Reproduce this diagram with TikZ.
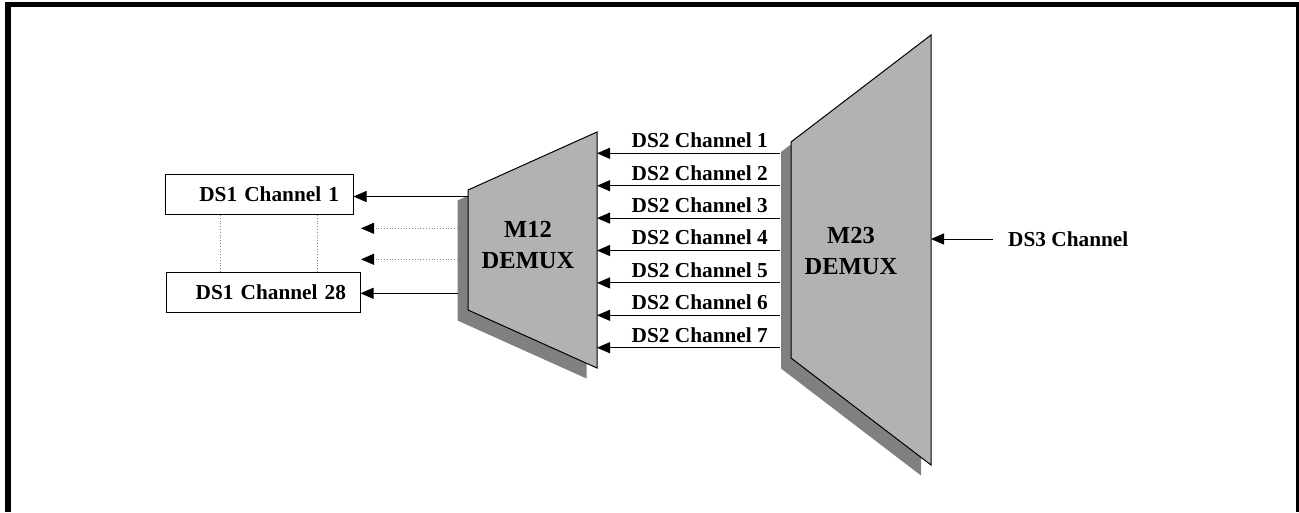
\documentclass[tikz,border=0pt]{standalone}
\usepackage{fontspec}
\setmainfont{Liberation Serif}
\usepackage{tikz}
\usetikzlibrary{positioning, arrows.meta, calc}
\definecolor{cMuxFace} {HTML}{B2B2B2}
\definecolor{cMuxShade}{HTML}{808080}
\definecolor{cDotted}  {HTML}{8A8A8A}

\begin{document}
\begin{tikzpicture}[x=1pt, y=-1pt,
    lbl/.style={font=\fontsize{21.3}{24}\selectfont\bfseries, inner sep=0pt},
    muxlbl/.style={font=\fontsize{24.5}{31}\selectfont\bfseries, align=center, inner sep=0pt},
    chanbox/.style={draw, line width=1pt, minimum height=40pt, inner xsep=14pt, inner ysep=0pt,
                    align=right, font=\fontsize{21.3}{24}\selectfont\bfseries},
    arr/.style={-{Triangle[length=13pt, width=11pt]}, line width=1pt},
    dotarr/.style={draw=cDotted, dotted, line width=0.8pt,
                   -{Triangle[length=13pt, width=11pt, color=black]}},
    dotline/.style={draw=cDotted, dotted, line width=0.8pt},
  ]
  \useasboundingbox (0,0) rectangle (1299,512);
  % frame, open at the bottom
  \fill (5,2) rectangle (11,512);
  \fill (5,2) rectangle (1299,7);
  \fill (1296,2) rectangle (1299,512);

  % muxes: shadow first, then face
  \fill[cMuxShade] (457.5,200.5) -- (586.5,142.5) -- (586.5,378.5) -- (457.5,320.5) -- cycle;
  \filldraw[fill=cMuxFace, line width=1pt] (468,190) -- (597,132) -- (597,368) -- (468,310) -- cycle;
  \fill[cMuxShade] (781,152) -- (921,45) -- (921,475.5) -- (781,368.5) -- cycle;
  \filldraw[fill=cMuxFace, line width=1pt] (791,142) -- (931,35) -- (931,465) -- (791,358) -- cycle;
  \node[muxlbl] (m12) at (528,245) {M12\\DEMUX};
  \node[muxlbl] (m23) at (851,251) {M23\\DEMUX};

  % DS1 side
  \node[chanbox, text width=160pt] (ds1a) at (259,194.5) {DS1 Channel 1};
  \node[chanbox, text width=166pt] (ds1b) at (263,292) {DS1 Channel 28};
  \coordinate (d1) at (220,0);
  \coordinate (d2) at (317,0);
  \draw[dotline] (d1 |- ds1a.south) -- (d1 |- ds1b.north);
  \draw[dotline] (d2 |- ds1a.south) -- (d2 |- ds1b.north);

  \coordinate (m12o1) at (468,196.5);
  \coordinate (m12o28) at (457.5,293.3);
  \draw[arr] (m12o1) -- (m12o1 -| ds1a.east);
  \draw[arr] (m12o28) -- (m12o28 -| ds1b.east);
  \foreach \y in {228.3, 259.3}{
    \coordinate (s) at (457.5,\y);
    \coordinate (t) at (361,\y);
    \draw[dotarr] (s) -- (t);
  }

  % DS2 channels
  \foreach \i in {1,...,7}{
    \pgfmathsetmacro{\yy}{153.3+(\i-1)*32.4}
    \coordinate (m23o\i) at (780,\yy);
    \coordinate (m12i\i) at (597,\yy);
    \draw[arr] (m23o\i) -- (m12i\i);
    \node[lbl, anchor=base east] (ds2\i) at (768,\yy-5.6) {DS2 Channel \i};
  }

  % DS3 input
  \node[lbl, anchor=west, inner xsep=15pt] (ds3) at (993,239) {DS3 Channel};
  \coordinate (m23i) at (931,239);
  \draw[arr] (ds3.west) -- (m23i);
\end{tikzpicture}
\end{document}
